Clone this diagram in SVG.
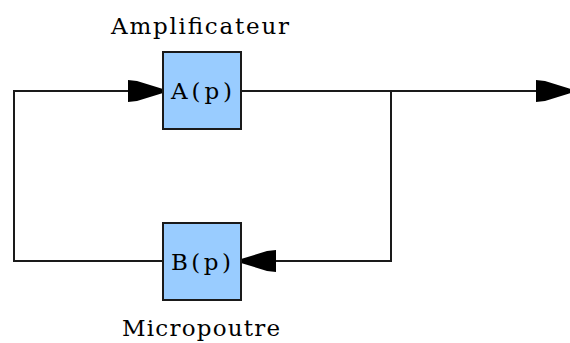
<svg xmlns="http://www.w3.org/2000/svg" width="570" height="343" viewBox="0 0 570 343">
  <style>
    .box { fill: #99CCFF; stroke: #1a1a1a; stroke-width: 2; }
    .wire { fill: none; stroke: #1a1a1a; stroke-width: 2; }
    .lbl { font-family: "DejaVu Serif", "Liberation Serif", serif; font-size: 23px; fill: #000; }
  </style>
  <defs>
    <marker id="arr" viewBox="0 0 35 22" refX="35" refY="11" markerWidth="35" markerHeight="22" markerUnits="userSpaceOnUse" orient="auto">
      <path d="M0,0 L9,1 L35,9 L35,13 L9,21 L0,22 Z" fill="#000"/>
    </marker>
  </defs>
  <g id="connectors">
    <path class="wire" d="M241,91 H571" marker-end="url(#arr)"/>
    <path class="wire" d="M391,91 V261 H241" marker-end="url(#arr)"/>
    <path class="wire" d="M163,261 H14 V91 H163" marker-end="url(#arr)"/>
  </g>
  <g id="amplificateur">
    <rect class="box" x="163" y="52" width="78" height="77"/>
    <text class="lbl" x="171" y="99" textLength="61" lengthAdjust="spacing">A(p)</text>
    <text class="lbl" x="111" y="34" textLength="178" lengthAdjust="spacing">Amplificateur</text>
  </g>
  <g id="micropoutre">
    <rect class="box" x="163" y="223" width="78" height="77"/>
    <text class="lbl" x="171" y="270" textLength="60" lengthAdjust="spacing">B(p)</text>
    <text class="lbl" x="122" y="336" textLength="158" lengthAdjust="spacing">Micropoutre</text>
  </g>
</svg>
